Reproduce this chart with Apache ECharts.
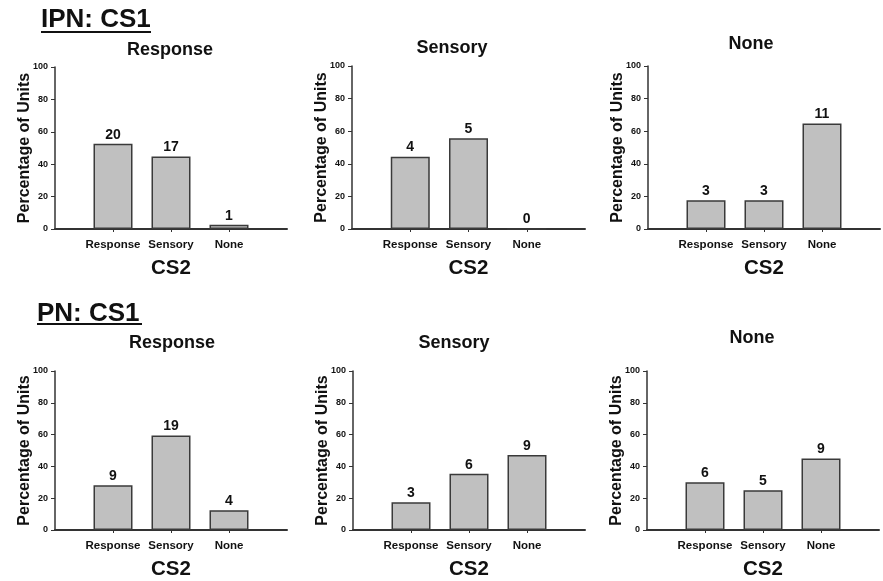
<!DOCTYPE html>
<html>
<head>
<meta charset="utf-8">
<script src="https://cdn.jsdelivr.net/npm/echarts@6/dist/echarts.min.js"></script>
<style>
  html, body { margin: 0; padding: 0; background: #fff; }
  #main { width: 883px; height: 581px; }
</style>
</head>
<body>
<div id="main"></div>
<script>
var categories = ['Response', 'Sensory', 'None'];
var panelTitles = ['Response', 'Sensory', 'None', 'Response', 'Sensory', 'None'];
var groupTitles = ['IPN: CS1', 'PN: CS1'];

// percentage of units per panel
var ipnResponse = [52.6, 44.7, 2.6];
var ipnSensory  = [44.4, 55.6, 0];
var ipnNone     = [17.6, 17.6, 64.7];
var pnResponse  = [28.1, 59.4, 12.5];
var pnSensory   = [17.5, 35.3, 47.2];
var pnNone      = [30, 25, 45];

// unit counts printed over the bars
var ipnResponseN = [20, 17, 1];
var ipnSensoryN  = [4, 5, 0];
var ipnNoneN     = [3, 3, 11];
var pnResponseN  = [9, 19, 4];
var pnSensoryN   = [3, 6, 9];
var pnNoneN      = [6, 5, 9];

var yTicks = [0, 20, 40, 60, 80, 100];

var values = [ipnResponse, ipnSensory, ipnNone, pnResponse, pnSensory, pnNone];
var counts = [ipnResponseN, ipnSensoryN, ipnNoneN, pnResponseN, pnSensoryN, pnNoneN];

var FONT = '"Liberation Sans", Arial, sans-serif';
var INK = '#111';

// panel boxes
var grids = [
  {left: 55,  top: 67,  width: 232, height: 162},
  {left: 352, top: 66,  width: 233, height: 163},
  {left: 648, top: 66,  width: 232, height: 163},
  {left: 55,  top: 371, width: 232, height: 161},
  {left: 353, top: 371, width: 232, height: 161},
  {left: 647, top: 371, width: 232, height: 161}
];
var titlePos = [[170, 50], [452, 48], [751, 44], [172, 343], [454, 343], [752, 338]];

var xCats = [''].concat(categories).concat(['']);

var xAxes = [], yAxes = [], series = [], graphics = [];
for (var i = 0; i < 6; i++) {
  xAxes.push({
    gridIndex: i,
    type: 'category',
    data: xCats,
    boundaryGap: false,
    name: 'CS2',
    nameLocation: 'middle',
    nameGap: 29,
    nameMoveOverlap: false,
    nameTextStyle: {fontFamily: FONT, fontWeight: 'bold', fontSize: 20.5, color: INK},
    axisLine: {lineStyle: {color: '#333', width: 2}},
    axisTick: {
      show: true, length: 3, lineStyle: {color: '#333', width: 1},
      interval: function (idx) { return idx >= 1 && idx <= 3; }
    },
    axisLabel: {interval: 0, margin: 10, fontFamily: FONT, fontWeight: 'bold', fontSize: 11.5, color: INK},
    splitLine: {show: false}
  });
  yAxes.push({
    gridIndex: i,
    type: 'value',
    min: yTicks[0],
    max: yTicks[yTicks.length - 1],
    interval: yTicks[1] - yTicks[0],
    name: 'Percentage of Units',
    nameLocation: 'middle',
    nameGap: 22,
    nameMoveOverlap: false,
    nameTextStyle: {fontFamily: FONT, fontWeight: 'bold', fontSize: 16, color: INK},
    axisLine: {show: true, lineStyle: {color: '#333', width: 1.5}},
    axisTick: {show: true, length: 4, lineStyle: {color: '#333', width: 1}},
    axisLabel: {margin: 7, fontFamily: FONT, fontWeight: 'bold', fontSize: 9, color: INK},
    splitLine: {show: false}
  });
  (function (k) {
    series.push({
      type: 'bar',
      xAxisIndex: k,
      yAxisIndex: k,
      barWidth: 39,
      data: [null].concat(values[k]).concat([null]),
      itemStyle: {color: '#c0c0c0', borderColor: '#3a3a3a', borderWidth: 1.5},
      label: {
        show: true, position: 'top', distance: 2,
        fontFamily: FONT, fontWeight: 'bold', fontSize: 14, color: INK,
        formatter: function (p) { return String(counts[k][p.dataIndex - 1]); }
      }
    });
  })(i);
  graphics.push({
    type: 'text', x: titlePos[i][0], y: titlePos[i][1],
    style: {text: panelTitles[i], textAlign: 'center', textVerticalAlign: 'middle',
      font: 'bold 18px ' + FONT, fill: INK}
  });
}

// group headings with underline
graphics.push({
  type: 'text', x: 41, y: 20,
  style: {text: groupTitles[0], textAlign: 'left', textVerticalAlign: 'middle',
    font: 'bold 26px ' + FONT, fill: INK}
});
graphics.push({type: 'line', shape: {x1: 41, y1: 32, x2: 151, y2: 32}, style: {stroke: INK, lineWidth: 2}});
graphics.push({
  type: 'text', x: 37, y: 314,
  style: {text: groupTitles[1], textAlign: 'left', textVerticalAlign: 'middle',
    font: 'bold 26px ' + FONT, fill: INK}
});
graphics.push({type: 'line', shape: {x1: 37, y1: 324, x2: 142, y2: 324}, style: {stroke: INK, lineWidth: 2}});

var chart = echarts.init(document.getElementById('main'));
chart.setOption({
  backgroundColor: '#fff',
  animation: false,
  grid: grids,
  xAxis: xAxes,
  yAxis: yAxes,
  series: series,
  graphic: graphics
});
</script>
</body>
</html>
